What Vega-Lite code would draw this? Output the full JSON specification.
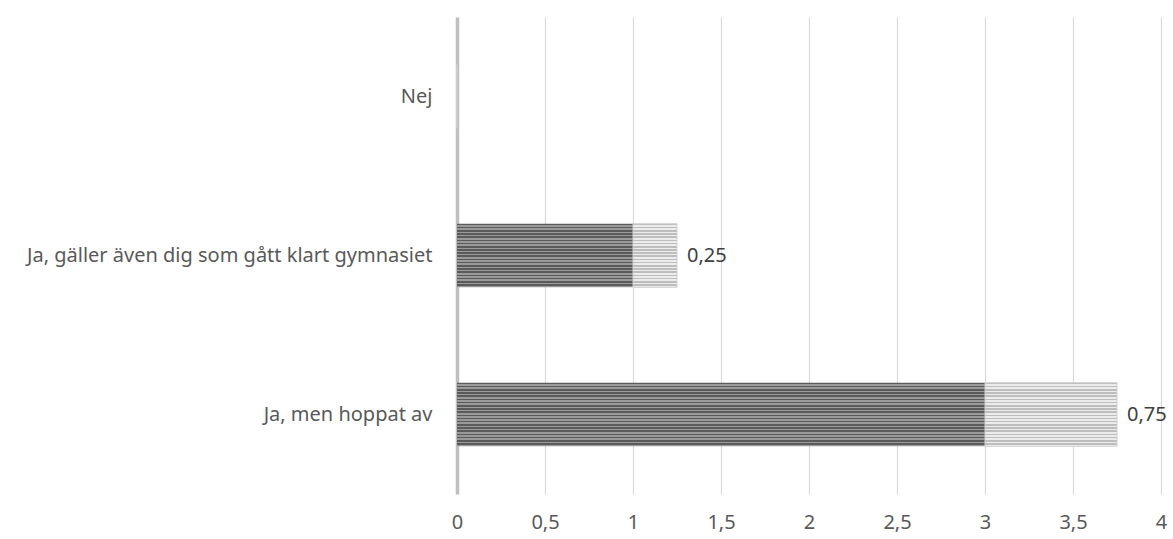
{
  "$schema": "https://vega.github.io/schema/vega-lite/v6.json",
  "width": 704,
  "height": 477,
  "autosize": {"type": "none"},
  "padding": {"left": 457, "top": 17, "right": 12, "bottom": 45},
  "background": "#ffffff",
  "config": {
    "locale": {"number": {"decimal": ",", "thousands": " ", "grouping": [3], "currency": ["", " kr"]}},
    "view": {"stroke": null},
    "font": "Noto Sans"
  },
  "data": {
    "values": [
      {"cat": "Nej", "series": "A", "ord": 1, "value": 0},
      {"cat": "Nej", "series": "B", "ord": 2, "value": 0},
      {"cat": "Ja, gäller även dig som gått klart gymnasiet", "series": "A", "ord": 1, "value": 1},
      {"cat": "Ja, gäller även dig som gått klart gymnasiet", "series": "B", "ord": 2, "value": 0.25},
      {"cat": "Ja, men hoppat av", "series": "A", "ord": 1, "value": 3},
      {"cat": "Ja, men hoppat av", "series": "B", "ord": 2, "value": 0.75}
    ]
  },
  "transform": [
    {"stack": "value", "groupby": ["cat"], "sort": [{"field": "ord", "order": "ascending"}], "as": ["x0", "x1"]}
  ],
  "encoding": {
    "y": {
      "field": "cat",
      "type": "nominal",
      "sort": ["Nej", "Ja, gäller även dig som gått klart gymnasiet", "Ja, men hoppat av"],
      "title": null,
      "scale": {"paddingInner": 0.6, "paddingOuter": 0.3},
      "axis": {
        "domain": true,
        "domainColor": "#bfbfbf",
        "domainWidth": 3.5,
        "ticks": false,
        "labelFontSize": 20,
        "labelColor": "#595959",
        "labelPadding": 25,
        "labelLimit": 500
      }
    }
  },
  "layer": [
    {
      "transform": [{"filter": "datum.series === 'A'"}],
      "mark": {
        "type": "bar",
        "color": {
          "gradient": "linear", "x1": 0, "y1": 0, "x2": 0, "y2": 1,
          "stops": [
            {"offset": 0, "color": "#5a5a5a"}, {"offset": 0.025, "color": "#5a5a5a"}, {"offset": 0.025, "color": "#9a9a9a"}, {"offset": 0.05, "color": "#9a9a9a"},
            {"offset": 0.05, "color": "#5a5a5a"}, {"offset": 0.075, "color": "#5a5a5a"}, {"offset": 0.075, "color": "#9a9a9a"}, {"offset": 0.1, "color": "#9a9a9a"},
            {"offset": 0.1, "color": "#5a5a5a"}, {"offset": 0.125, "color": "#5a5a5a"}, {"offset": 0.125, "color": "#9a9a9a"}, {"offset": 0.15, "color": "#9a9a9a"},
            {"offset": 0.15, "color": "#5a5a5a"}, {"offset": 0.175, "color": "#5a5a5a"}, {"offset": 0.175, "color": "#9a9a9a"}, {"offset": 0.2, "color": "#9a9a9a"},
            {"offset": 0.2, "color": "#5a5a5a"}, {"offset": 0.225, "color": "#5a5a5a"}, {"offset": 0.225, "color": "#9a9a9a"}, {"offset": 0.25, "color": "#9a9a9a"},
            {"offset": 0.25, "color": "#5a5a5a"}, {"offset": 0.275, "color": "#5a5a5a"}, {"offset": 0.275, "color": "#9a9a9a"}, {"offset": 0.3, "color": "#9a9a9a"},
            {"offset": 0.3, "color": "#5a5a5a"}, {"offset": 0.325, "color": "#5a5a5a"}, {"offset": 0.325, "color": "#9a9a9a"}, {"offset": 0.35, "color": "#9a9a9a"},
            {"offset": 0.35, "color": "#5a5a5a"}, {"offset": 0.375, "color": "#5a5a5a"}, {"offset": 0.375, "color": "#9a9a9a"}, {"offset": 0.4, "color": "#9a9a9a"},
            {"offset": 0.4, "color": "#5a5a5a"}, {"offset": 0.425, "color": "#5a5a5a"}, {"offset": 0.425, "color": "#9a9a9a"}, {"offset": 0.45, "color": "#9a9a9a"},
            {"offset": 0.45, "color": "#5a5a5a"}, {"offset": 0.475, "color": "#5a5a5a"}, {"offset": 0.475, "color": "#9a9a9a"}, {"offset": 0.5, "color": "#9a9a9a"},
            {"offset": 0.5, "color": "#5a5a5a"}, {"offset": 0.525, "color": "#5a5a5a"}, {"offset": 0.525, "color": "#9a9a9a"}, {"offset": 0.55, "color": "#9a9a9a"},
            {"offset": 0.55, "color": "#5a5a5a"}, {"offset": 0.575, "color": "#5a5a5a"}, {"offset": 0.575, "color": "#9a9a9a"}, {"offset": 0.6, "color": "#9a9a9a"},
            {"offset": 0.6, "color": "#5a5a5a"}, {"offset": 0.625, "color": "#5a5a5a"}, {"offset": 0.625, "color": "#9a9a9a"}, {"offset": 0.65, "color": "#9a9a9a"},
            {"offset": 0.65, "color": "#5a5a5a"}, {"offset": 0.675, "color": "#5a5a5a"}, {"offset": 0.675, "color": "#9a9a9a"}, {"offset": 0.7, "color": "#9a9a9a"},
            {"offset": 0.7, "color": "#5a5a5a"}, {"offset": 0.725, "color": "#5a5a5a"}, {"offset": 0.725, "color": "#9a9a9a"}, {"offset": 0.75, "color": "#9a9a9a"},
            {"offset": 0.75, "color": "#5a5a5a"}, {"offset": 0.775, "color": "#5a5a5a"}, {"offset": 0.775, "color": "#9a9a9a"}, {"offset": 0.8, "color": "#9a9a9a"},
            {"offset": 0.8, "color": "#5a5a5a"}, {"offset": 0.825, "color": "#5a5a5a"}, {"offset": 0.825, "color": "#9a9a9a"}, {"offset": 0.85, "color": "#9a9a9a"},
            {"offset": 0.85, "color": "#5a5a5a"}, {"offset": 0.875, "color": "#5a5a5a"}, {"offset": 0.875, "color": "#9a9a9a"}, {"offset": 0.9, "color": "#9a9a9a"},
            {"offset": 0.9, "color": "#5a5a5a"}, {"offset": 0.925, "color": "#5a5a5a"}, {"offset": 0.925, "color": "#9a9a9a"}, {"offset": 0.95, "color": "#9a9a9a"},
            {"offset": 0.95, "color": "#5a5a5a"}, {"offset": 0.975, "color": "#5a5a5a"}, {"offset": 0.975, "color": "#9a9a9a"}, {"offset": 1, "color": "#9a9a9a"}
          ]
        }
      },
      "encoding": {
        "x": {
          "field": "x0",
          "type": "quantitative",
          "scale": {"domain": [0, 4], "nice": false},
          "title": null,
          "axis": {
            "domain": false,
            "ticks": false,
            "grid": true,
            "gridColor": "#d9d9d9",
            "gridWidth": 1.2,
            "values": [0, 0.5, 1, 1.5, 2, 2.5, 3, 3.5, 4],
            "format": "~g",
            "labelFlush": false,
            "labelFontSize": 20,
            "labelColor": "#595959",
            "labelPadding": 18
          }
        },
        "x2": {"field": "x1"}
      }
    },
    {
      "transform": [{"filter": "datum.series === 'B'"}],
      "mark": {
        "type": "bar",
        "stroke": "#d0d0d0",
        "strokeWidth": 1,
        "color": {
          "gradient": "linear", "x1": 0, "y1": 0, "x2": 0, "y2": 1,
          "stops": [
            {"offset": 0, "color": "#bdbdbd"}, {"offset": 0.025, "color": "#bdbdbd"}, {"offset": 0.025, "color": "#ececec"}, {"offset": 0.05, "color": "#ececec"},
            {"offset": 0.05, "color": "#bdbdbd"}, {"offset": 0.075, "color": "#bdbdbd"}, {"offset": 0.075, "color": "#ececec"}, {"offset": 0.1, "color": "#ececec"},
            {"offset": 0.1, "color": "#bdbdbd"}, {"offset": 0.125, "color": "#bdbdbd"}, {"offset": 0.125, "color": "#ececec"}, {"offset": 0.15, "color": "#ececec"},
            {"offset": 0.15, "color": "#bdbdbd"}, {"offset": 0.175, "color": "#bdbdbd"}, {"offset": 0.175, "color": "#ececec"}, {"offset": 0.2, "color": "#ececec"},
            {"offset": 0.2, "color": "#bdbdbd"}, {"offset": 0.225, "color": "#bdbdbd"}, {"offset": 0.225, "color": "#ececec"}, {"offset": 0.25, "color": "#ececec"},
            {"offset": 0.25, "color": "#bdbdbd"}, {"offset": 0.275, "color": "#bdbdbd"}, {"offset": 0.275, "color": "#ececec"}, {"offset": 0.3, "color": "#ececec"},
            {"offset": 0.3, "color": "#bdbdbd"}, {"offset": 0.325, "color": "#bdbdbd"}, {"offset": 0.325, "color": "#ececec"}, {"offset": 0.35, "color": "#ececec"},
            {"offset": 0.35, "color": "#bdbdbd"}, {"offset": 0.375, "color": "#bdbdbd"}, {"offset": 0.375, "color": "#ececec"}, {"offset": 0.4, "color": "#ececec"},
            {"offset": 0.4, "color": "#bdbdbd"}, {"offset": 0.425, "color": "#bdbdbd"}, {"offset": 0.425, "color": "#ececec"}, {"offset": 0.45, "color": "#ececec"},
            {"offset": 0.45, "color": "#bdbdbd"}, {"offset": 0.475, "color": "#bdbdbd"}, {"offset": 0.475, "color": "#ececec"}, {"offset": 0.5, "color": "#ececec"},
            {"offset": 0.5, "color": "#bdbdbd"}, {"offset": 0.525, "color": "#bdbdbd"}, {"offset": 0.525, "color": "#ececec"}, {"offset": 0.55, "color": "#ececec"},
            {"offset": 0.55, "color": "#bdbdbd"}, {"offset": 0.575, "color": "#bdbdbd"}, {"offset": 0.575, "color": "#ececec"}, {"offset": 0.6, "color": "#ececec"},
            {"offset": 0.6, "color": "#bdbdbd"}, {"offset": 0.625, "color": "#bdbdbd"}, {"offset": 0.625, "color": "#ececec"}, {"offset": 0.65, "color": "#ececec"},
            {"offset": 0.65, "color": "#bdbdbd"}, {"offset": 0.675, "color": "#bdbdbd"}, {"offset": 0.675, "color": "#ececec"}, {"offset": 0.7, "color": "#ececec"},
            {"offset": 0.7, "color": "#bdbdbd"}, {"offset": 0.725, "color": "#bdbdbd"}, {"offset": 0.725, "color": "#ececec"}, {"offset": 0.75, "color": "#ececec"},
            {"offset": 0.75, "color": "#bdbdbd"}, {"offset": 0.775, "color": "#bdbdbd"}, {"offset": 0.775, "color": "#ececec"}, {"offset": 0.8, "color": "#ececec"},
            {"offset": 0.8, "color": "#bdbdbd"}, {"offset": 0.825, "color": "#bdbdbd"}, {"offset": 0.825, "color": "#ececec"}, {"offset": 0.85, "color": "#ececec"},
            {"offset": 0.85, "color": "#bdbdbd"}, {"offset": 0.875, "color": "#bdbdbd"}, {"offset": 0.875, "color": "#ececec"}, {"offset": 0.9, "color": "#ececec"},
            {"offset": 0.9, "color": "#bdbdbd"}, {"offset": 0.925, "color": "#bdbdbd"}, {"offset": 0.925, "color": "#ececec"}, {"offset": 0.95, "color": "#ececec"},
            {"offset": 0.95, "color": "#bdbdbd"}, {"offset": 0.975, "color": "#bdbdbd"}, {"offset": 0.975, "color": "#ececec"}, {"offset": 1, "color": "#ececec"}
          ]
        }
      },
      "encoding": {
        "x": {"field": "x0", "type": "quantitative"},
        "x2": {"field": "x1"}
      }
    },
    {
      "transform": [{"filter": "datum.series === 'B' && datum.value > 0"}],
      "mark": {"type": "text", "align": "left", "dx": 10, "fontSize": 20, "color": "#404040"},
      "encoding": {
        "x": {"field": "x1", "type": "quantitative"},
        "text": {"field": "value", "type": "quantitative", "format": "~g"}
      }
    }
  ]
}
